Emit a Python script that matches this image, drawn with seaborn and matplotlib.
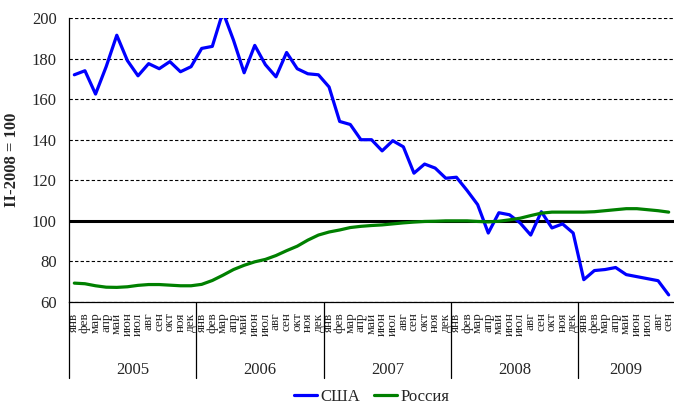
import pandas as pd
import numpy as np
import matplotlib
matplotlib.use('Agg')
import matplotlib.pyplot as plt
import seaborn as sns

# monthly index values, Jan 2005 - Sep 2009 (II-2008 = 100)
months = ['янв', 'фев', 'мар', 'апр', 'май', 'июн',
          'июл', 'авг', 'сен', 'окт', 'ноя', 'дек']
years = ['2005', '2006', '2007', '2008', '2009']

usa = [172, 174, 162.5, 176, 191.5, 179, 171.5, 177.5, 175, 178.5, 173.5, 176,
       185, 186, 203, 189, 173, 186.5, 177, 171, 183, 175, 172.5, 172,
       166, 149, 147.5, 140, 140, 134.5, 139.5, 136.5, 123.5, 128, 126, 121,
       121.5, 115, 108, 94, 104, 103, 99, 93, 104.5, 96.5, 98.5, 94,
       71, 75.5, 76, 77, 73.5, 72.5, 71.5, 70.5, 63.5]

russia = [69.3, 69, 68, 67.3, 67.2, 67.5, 68.2, 68.6, 68.6, 68.3, 68, 68,
          68.7, 70.6, 73.2, 76, 78.1, 79.8, 81, 82.9, 85.3, 87.5, 90.5, 93,
          94.5, 95.5, 96.7, 97.3, 97.7, 98, 98.5, 99, 99.4, 99.7, 99.8, 100,
          100, 100, 99.7, 99.5, 99.8, 100.5, 101.3, 102.6, 103.8, 104.3, 104.3, 104.3,
          104.3, 104.5, 105, 105.5, 106, 106, 105.5, 105, 104.3]

n = len(usa)
month_labels = [months[i % 12] for i in range(n)]

df = pd.DataFrame({
    'month': list(range(n)) * 2,
    'value': usa + russia,
    'country': ['США'] * n + ['Россия'] * n,
})

sns.set_style('white')
plt.rcParams['font.family'] = ['Liberation Serif', 'DejaVu Serif']

fig = plt.figure(figsize=(6.74, 4.07), dpi=100)
ax = fig.add_axes([0.1024, 0.258, 0.8976, 0.6978])

sns.lineplot(data=df, x='month', y='value', hue='country',
             palette={'США': '#0000ff', 'Россия': '#008000'},
             linewidth=2.3, ax=ax)

ax.axhline(100, color='black', lw=2.2, zorder=1.5)

ax.set_xlim(-0.5, n - 0.5)
ax.set_ylim(60, 200)
ax.set_yticks(range(60, 201, 20))
ax.yaxis.grid(True, linestyle=(0, (3, 2)), color='black', lw=0.8)
ax.xaxis.grid(False)
ax.set_axisbelow(True)
ax.tick_params(axis='y', length=0, pad=9, labelsize=12)

# month boundaries as ticks, month names at centres
ax.set_xticks(np.arange(-0.5, n, 1))
ax.set_xticklabels([])
ax.tick_params(axis='x', which='major', length=4.5, width=0.8, color='black', direction='out')
ax.set_xticks(np.arange(n), minor=True)
ax.set_xticklabels(month_labels, minor=True, rotation=90, fontsize=9.5)
ax.tick_params(axis='x', which='minor', length=0, pad=7.5)

ax.set_xlabel('')
ax.set_ylabel('II-2008 = 100', fontsize=12, fontweight='bold')
ax.yaxis.set_label_coords(-0.081, 0.5)

for s in ['top', 'right']:
    ax.spines[s].set_visible(False)
for s in ['left', 'bottom']:
    ax.spines[s].set_color('black')
    ax.spines[s].set_linewidth(0.9)

# year separators and labels
trans = ax.get_xaxis_transform()
for k, yr in enumerate(years):
    start = k * 12 - 0.5
    end = min(start + 12, n - 0.5)
    ax.plot([start, start], [0, -0.268], transform=trans, color='black',
            lw=0.9, clip_on=False)
    ax.text((start + end) / 2, -0.24, yr, transform=trans, ha='center',
            va='center', fontsize=12)

sns.move_legend(ax, 'center', bbox_to_anchor=(0.5, -0.335), ncol=2,
                frameon=False, title=None, fontsize=12, handlelength=1.4,
                handletextpad=0.2, columnspacing=0.8)

fig.savefig('out.png', dpi=100)
